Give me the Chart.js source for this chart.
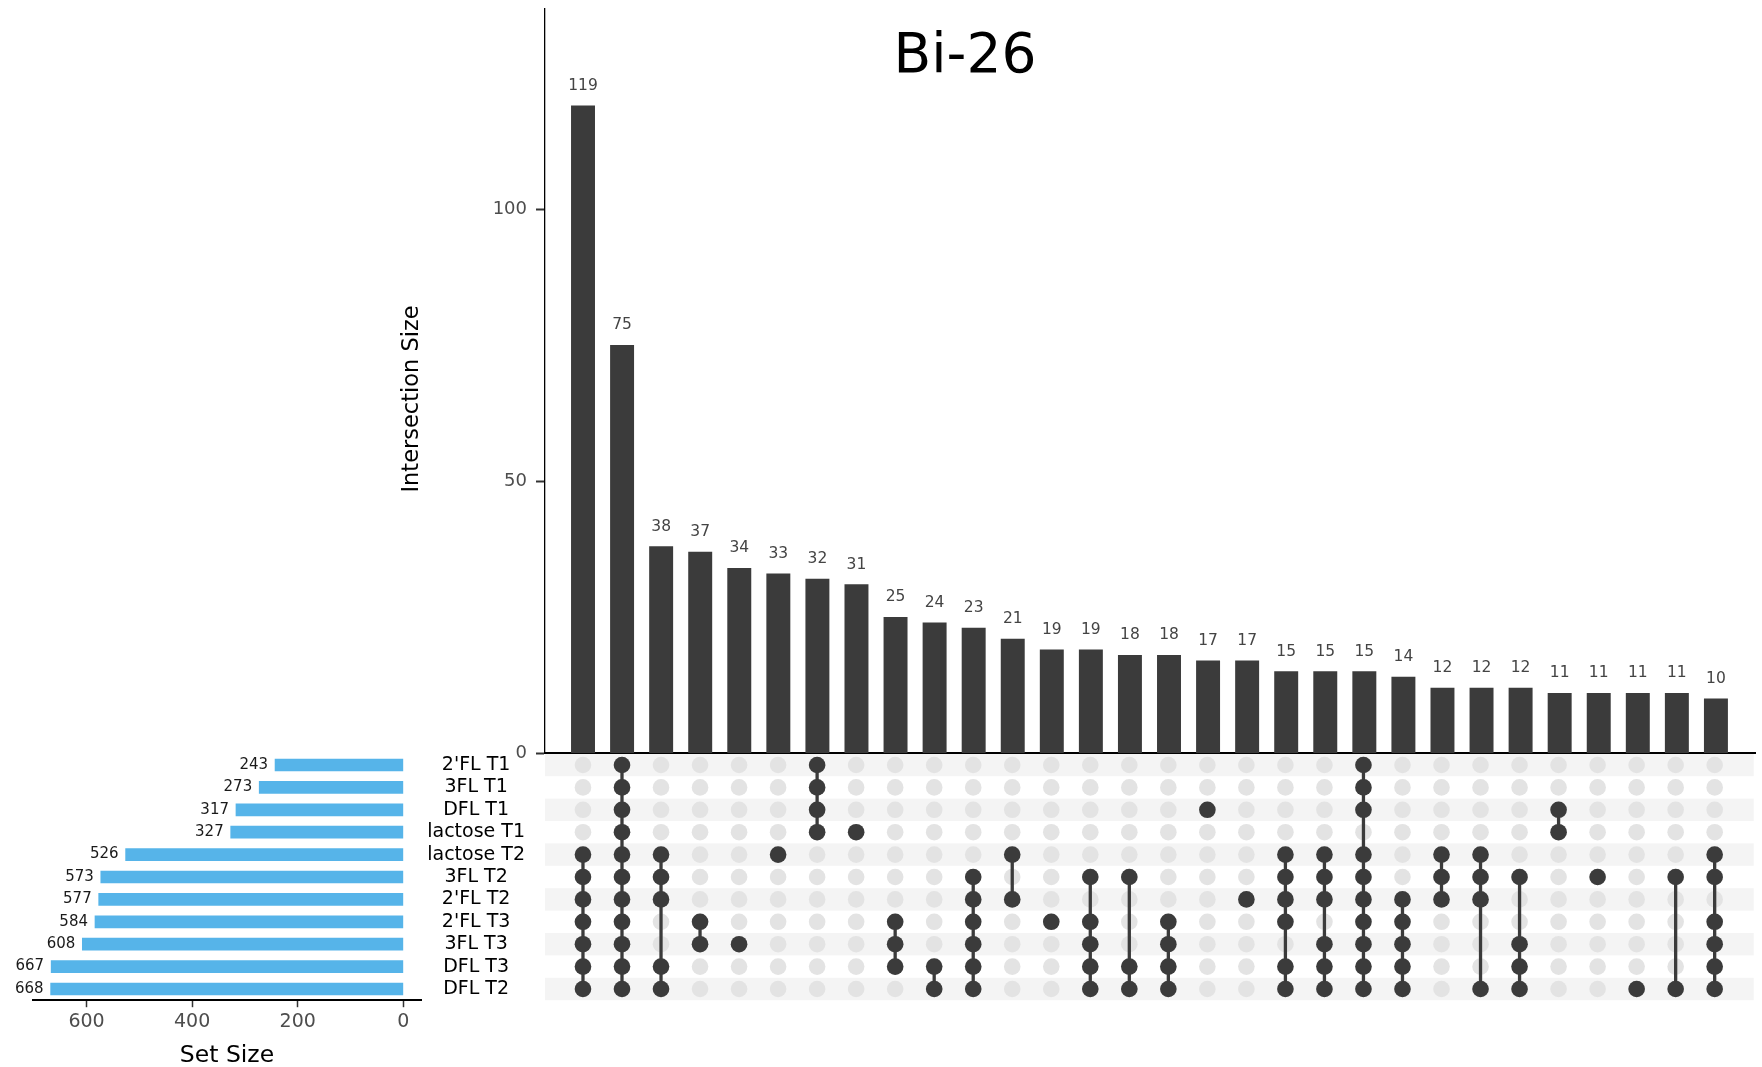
<!DOCTYPE html>
<html>
<head>
<meta charset="utf-8">
<title>Bi-26</title>
<script src="https://cdn.jsdelivr.net/npm/chart.js@4.4.1/dist/chart.umd.min.js"></script>
<style>
  html, body { margin: 0; padding: 0; background: #ffffff; }
  #wrap { position: relative; width: 1762px; height: 1067px; overflow: hidden; }
  #wrap canvas { position: absolute; left: 0; top: 0; }
</style>
</head>
<body>
<div id="wrap">
  <canvas id="matrix" width="1762" height="1067"></canvas>
  <canvas id="sets" width="1762" height="1067"></canvas>
  <canvas id="bars" width="1762" height="1067"></canvas>
</div>
<script>
// ---- data ----
const chartTitle = "Bi-26";
const intersectionAxisTitle = "Intersection Size";
const setAxisTitle = "Set Size";

const setNames = ["2'FL T1", "3FL T1", "DFL T1", "lactose T1", "lactose T2",
                  "3FL T2", "2'FL T2", "2'FL T3", "3FL T3", "DFL T3", "DFL T2"];
const setSizes = [243, 273, 317, 327, 526, 573, 577, 584, 608, 667, 668];

const intersectionSizes = [119, 75, 38, 37, 34, 33, 32, 31, 25, 24, 23, 21, 19, 19, 18,
                           18, 17, 17, 15, 15, 15, 14, 12, 12, 12, 11, 11, 11, 11, 10];

// members of each intersection, as indices into setNames
const intersectionMembers = [
  [4, 5, 6, 7, 8, 9, 10],
  [0, 1, 2, 3, 4, 5, 6, 7, 8, 9, 10],
  [4, 5, 6, 9, 10],
  [7, 8],
  [8],
  [4],
  [0, 1, 2, 3],
  [3],
  [7, 8, 9],
  [9, 10],
  [5, 6, 7, 8, 9, 10],
  [4, 6],
  [7],
  [5, 7, 8, 9, 10],
  [5, 9, 10],
  [7, 8, 9, 10],
  [2],
  [6],
  [4, 5, 6, 7, 9, 10],
  [4, 5, 6, 8, 9, 10],
  [0, 1, 2, 4, 5, 6, 7, 8, 9, 10],
  [6, 7, 8, 9, 10],
  [4, 5, 6],
  [4, 5, 6, 10],
  [5, 8, 9, 10],
  [2, 3],
  [5],
  [10],
  [5, 10],
  [4, 5, 7, 8, 9, 10]
];

const intersectionTicks = [0, 50, 100];
const setSizeTicks = [0, 200, 400, 600];

// ---- styling ----
const FONT = "'DejaVu Sans', sans-serif";
const DARK = '#3b3b3b';
const LIGHT_DOT = '#e3e3e3';
const STRIPE = '#f4f4f4';
const BLUE = '#56B4E9';

Chart.defaults.font.family = FONT;
Chart.defaults.animation = false;

// shared horizontal extent of the intersection columns
const colMin = -0.973, colMax = 30.0;

// keep axis label overhang from shifting the plot areas
function noScalePadding(s) {
  s.paddingTop = 0; s.paddingBottom = 0; s.paddingLeft = 0; s.paddingRight = 0;
}

// ---- intersection size bars ----
const barLabels = {
  id: 'barLabels',
  afterDatasetsDraw(chart) {
    const ctx = chart.ctx;
    const meta = chart.getDatasetMeta(0);
    ctx.save();
    ctx.fillStyle = '#444444';
    ctx.font = '15.5px ' + FONT;
    ctx.textAlign = 'center';
    ctx.textBaseline = 'alphabetic';
    meta.data.forEach((bar, i) => {
      ctx.fillText(String(intersectionSizes[i]), bar.x, bar.y - 16);
    });
    ctx.restore();
  }
};

const headings = {
  id: 'headings',
  afterDraw(chart) {
    const ctx = chart.ctx;
    ctx.save();
    ctx.fillStyle = '#000000';
    ctx.textAlign = 'center';
    ctx.textBaseline = 'alphabetic';
    ctx.font = '55px ' + FONT;
    ctx.fillText(chartTitle, 965, 72);
    ctx.translate(412, 399);
    ctx.rotate(-Math.PI / 2);
    ctx.textBaseline = 'middle';
    ctx.font = '22.5px ' + FONT;
    ctx.fillText(intersectionAxisTitle, 0, 0);
    ctx.restore();
  }
};

new Chart(document.getElementById('bars'), {
  type: 'bar',
  data: {
    datasets: [{
      data: intersectionSizes.map((v, i) => ({ x: i, y: v })),
      backgroundColor: DARK,
      barThickness: 23.3
    }]
  },
  options: {
    responsive: false,
    devicePixelRatio: 1,
    layout: { padding: { left: 395, right: 7, top: 9, bottom: 1067 - 753.3 } },
    plugins: { legend: { display: false }, tooltip: { enabled: false } },
    scales: {
      x: {
        type: 'linear', min: colMin, max: colMax, offset: false,
        grid: { display: false, drawTicks: false },
        ticks: { display: false },
        border: { display: true, color: '#000000', width: 2 },
        afterFit(s) { s.height = 0; noScalePadding(s); }
      },
      y: {
        min: 0, max: 136.8,
        afterBuildTicks(s) { s.ticks = intersectionTicks.map(v => ({ value: v })); },
        grid: { drawOnChartArea: false, tickLength: 9, tickWidth: 2, tickColor: '#333333' },
        border: { color: '#000000', width: 1.3 },
        ticks: { padding: 9, color: '#4d4d4d', font: { size: 18 } },
        afterFit(s) { s.width = 150; noScalePadding(s); }
      }
    }
  },
  plugins: [barLabels, headings]
});

// ---- membership matrix ----
const stripes = {
  id: 'stripes',
  beforeDatasetsDraw(chart) {
    const { ctx, chartArea: a, scales: { y } } = chart;
    const band = (a.bottom - a.top) / setNames.length;
    ctx.save();
    ctx.fillStyle = STRIPE;
    setNames.forEach((name, i) => {
      if (i % 2 === 0) {
        const yc = y.getPixelForValue(i);
        ctx.fillRect(a.left, yc - band / 2, a.right - a.left, band);
      }
    });
    ctx.restore();
  }
};

const emptyCells = [];
intersectionSizes.forEach((v, i) => {
  setNames.forEach(name => emptyCells.push({ x: i, y: name }));
});

const filledCells = [];
intersectionMembers.forEach((members, i) => {
  members.forEach(s => filledCells.push({ x: i, y: setNames[s] }));
});

const connectors = [];
intersectionMembers.forEach((members, i) => {
  if (members.length > 1) {
    const lo = Math.min(...members), hi = Math.max(...members);
    connectors.push({
      data: [{ x: i, y: setNames[lo] }, { x: i, y: setNames[hi] }],
      showLine: true,
      borderColor: DARK,
      borderWidth: 3.3,
      pointRadius: 0,
      order: 1
    });
  }
});

new Chart(document.getElementById('matrix'), {
  type: 'scatter',
  data: {
    datasets: [
      { data: filledCells, backgroundColor: DARK, pointRadius: 8.3, pointBorderWidth: 0, order: 0 },
      ...connectors,
      { data: emptyCells, backgroundColor: LIGHT_DOT, pointRadius: 8.3, pointBorderWidth: 0, order: 2 }
    ]
  },
  options: {
    responsive: false,
    devicePixelRatio: 1,
    layout: { padding: { left: 395, right: 7, top: 753.8, bottom: 1067 - 1000.2 } },
    plugins: { legend: { display: false }, tooltip: { enabled: false } },
    scales: {
      x: { type: 'linear', min: colMin, max: colMax, display: false },
      y: {
        type: 'category', labels: setNames, offset: true, position: 'left',
        grid: { display: false, drawTicks: false },
        border: { display: false },
        ticks: { autoSkip: false, crossAlign: 'center', padding: 20, color: '#000000', font: { size: 19 } },
        afterFit(s) { s.width = 150; noScalePadding(s); }
      }
    }
  },
  plugins: [stripes]
});

// ---- set size bars ----
const sizeLabels = {
  id: 'sizeLabels',
  afterDatasetsDraw(chart) {
    const ctx = chart.ctx;
    const meta = chart.getDatasetMeta(0);
    ctx.save();
    ctx.fillStyle = '#1a1a1a';
    ctx.font = '15px ' + FONT;
    ctx.textAlign = 'right';
    ctx.textBaseline = 'middle';
    meta.data.forEach((bar, i) => {
      ctx.fillText(String(setSizes[i]), bar.x - 7, bar.y);
    });
    ctx.restore();
  }
};

new Chart(document.getElementById('sets'), {
  type: 'bar',
  data: {
    labels: setNames,
    datasets: [{ data: setSizes, backgroundColor: BLUE, barThickness: 12 }]
  },
  options: {
    indexAxis: 'y',
    responsive: false,
    devicePixelRatio: 1,
    layout: { padding: { left: 33, right: 1762 - 421, top: 753.8, bottom: 0 } },
    plugins: { legend: { display: false }, tooltip: { enabled: false } },
    scales: {
      y: { display: false, offset: true },
      x: {
        min: -33.4, max: 701.4, reverse: true,
        afterBuildTicks(s) { s.ticks = setSizeTicks.map(v => ({ value: v })); },
        grid: { drawOnChartArea: false, tickLength: 7, tickWidth: 1.5, tickColor: '#333333' },
        border: { color: '#000000', width: 2 },
        ticks: { padding: 3, color: '#4d4d4d', font: { size: 19 } },
        title: { display: true, text: setAxisTitle, color: '#000000', font: { size: 23.5, lineHeight: 0.9 }, padding: { top: 0, bottom: 1 } },
        afterFit(s) { s.height = 1067 - 1000.2; noScalePadding(s); }
      }
    }
  },
  plugins: [sizeLabels]
});
</script>
</body>
</html>
